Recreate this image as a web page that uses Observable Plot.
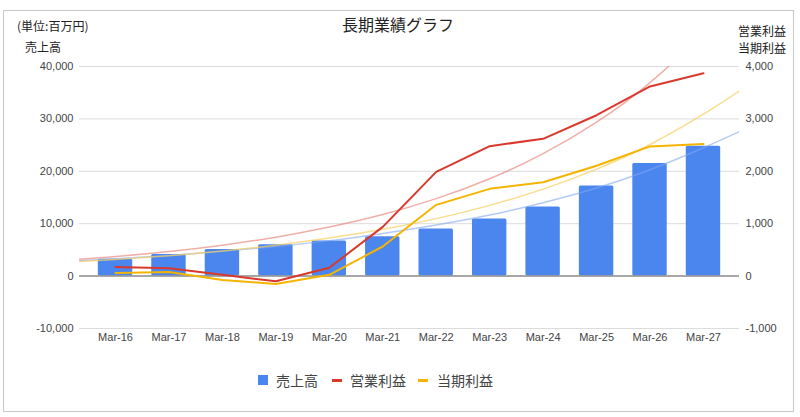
<!DOCTYPE html>
<html>
<head>
<meta charset="utf-8">
<script src="https://cdn.jsdelivr.net/npm/d3@7"></script>
<script src="https://cdn.jsdelivr.net/npm/@observablehq/plot@0.6"></script>
<style>
  html, body { margin: 0; padding: 0; background: #fff; }
  #wrap { position: relative; width: 800px; height: 417px; overflow: hidden; font-family: "Noto Sans CJK JP", "Liberation Sans", sans-serif; color: #222; }
  #wrap svg { position: absolute; left: 0; top: 0; }
  .abs { position: absolute; white-space: nowrap; line-height: 1; }
  #border { position: absolute; left: 3px; top: 10px; width: 789px; height: 400px; border: 1.5px solid #c8c8c8; }
</style>
</head>
<body>
<div id="wrap">
  <div id="border"></div>
</div>
<script>
// ---- data ----
const labels = ["Mar-16","Mar-17","Mar-18","Mar-19","Mar-20","Mar-21","Mar-22","Mar-23","Mar-24","Mar-25","Mar-26","Mar-27"];
const sales = [3200, 4100, 5100, 6000, 6700, 7500, 9000, 10900, 13200, 17200, 21500, 24800];        // 売上高 (left axis)
const opProfit = [175, 150, 25, -100, 160, 940, 1990, 2480, 2620, 3070, 3620, 3870];               // 営業利益 (right axis)
const netProfit = [60, 80, -75, -150, 25, 565, 1360, 1665, 1790, 2105, 2475, 2520];               // 当期利益 (right axis)
// trendlines, at category positions (incl. plot edges)
const trendPos = [-0.674, 0, 1, 2, 3, 4, 5, 6, 7, 8, 9, 10, 11, 11.674];
const salesTrend = [2930, 3290, 3940, 4720, 5650, 6770, 8150, 9750, 11650, 14000, 16800, 20300, 24500, 27600];
const opTrend = [322, 374, 470, 591, 743, 935, 1175, 1478, 1858, 2336, 2937, 3693, 4643, 5388];
const netTrend = [277, 317, 390, 479, 590, 725, 892, 1097, 1350, 1660, 2042, 2512, 3090, 3537];
const leftTicks = [-10000, 0, 10000, 20000, 30000, 40000];
const rightTicks = [-1000, 0, 1000, 2000, 3000, 4000];

const BLUE = "#4a86ee", RED = "#d9392c", YELLOW = "#f4b400";
const ratio = 10; // right axis -> left axis units

const idx = labels.map((_, i) => i);
const salesRows = idx.map(i => ({i, v: sales[i]}));
const opRows = idx.map(i => ({i, v: opProfit[i] * ratio}));
const netRows = idx.map(i => ({i, v: netProfit[i] * ratio}));
const sTrend = trendPos.map((p, k) => ({p, v: salesTrend[k]}));
const oTrend = trendPos.map((p, k) => ({p, v: opTrend[k] * ratio}));
const nTrend = trendPos.map((p, k) => ({p, v: netTrend[k] * ratio}));

const chart = Plot.plot({
  width: 800,
  height: 417,
  marginTop: 66,
  marginBottom: 89,
  marginLeft: 79,
  marginRight: 61,
  x: {type: "linear", domain: [-0.674, 11.674]},
  y: {domain: [-10000, 40000]},
  style: {fontFamily: "'Liberation Sans', Arial, sans-serif", fontSize: "11px", color: "#444", background: "transparent"},
  marks: [
    Plot.ruleY(leftTicks.filter(d => d !== 0), {stroke: "#dcdcdc", strokeWidth: 1}),
    Plot.rectY(salesRows, {x1: d => d.i - 0.322, x2: d => d.i + 0.322, y: "v", fill: BLUE, rx: 1.5}),
    Plot.ruleY([0], {stroke: "#8a8a8a", strokeWidth: 1.5}),
    Plot.line(sTrend, {x: "p", y: "v", stroke: "#7ea6f2", strokeOpacity: 0.6, strokeWidth: 1.5, curve: "natural", clip: true}),
    Plot.line(oTrend, {x: "p", y: "v", stroke: "#e8827a", strokeOpacity: 0.65, strokeWidth: 1.5, curve: "natural", clip: true}),
    Plot.line(nTrend, {x: "p", y: "v", stroke: "#f7cf5c", strokeOpacity: 0.7, strokeWidth: 1.5, curve: "natural", clip: true}),
    Plot.line(opRows, {x: "i", y: "v", stroke: RED, strokeWidth: 2}),
    Plot.line(netRows, {x: "i", y: "v", stroke: YELLOW, strokeWidth: 2}),
    Plot.axisY({ticks: leftTicks, tickSize: 0, tickPadding: 6, tickFormat: d => d.toLocaleString("en-US"), label: null}),
    Plot.axisY({anchor: "right", ticks: leftTicks, tickSize: 0, tickPadding: 6, tickFormat: d => (d / ratio).toLocaleString("en-US"), label: null}),
    Plot.axisX({ticks: idx, tickSize: 0, tickPadding: 5, tickFormat: i => labels[i], label: null})
  ]
});

const wrap = document.getElementById("wrap");
wrap.appendChild(chart);

function addText(txt, left, top, size, extra = {}) {
  const el = document.createElement("div");
  el.className = "abs";
  el.textContent = txt;
  el.style.left = left + "px";
  el.style.top = top + "px";
  el.style.fontSize = size + "px";
  Object.assign(el.style, extra);
  wrap.appendChild(el);
  return el;
}
function addSwatch(left, top, w, h, color) {
  const el = document.createElement("div");
  el.className = "abs";
  Object.assign(el.style, {left: left + "px", top: top + "px", width: w + "px", height: h + "px", background: color});
  wrap.appendChild(el);
}

addText("長期業績グラフ", 342, 16, 16);
addText("(単位:百万円)", 17, 20, 12);
addText("売上高", 25, 41, 12);
addText("営業利益", 738, 25, 12);
addText("当期利益", 738, 42, 12);

// legend
addSwatch(258, 375, 10, 10, BLUE);
addText("売上高", 276, 373, 14, {color: "#444"});
addSwatch(332, 379, 10, 3, RED);
addText("営業利益", 350, 373, 14, {color: "#444"});
addSwatch(418, 379, 10, 3, YELLOW);
addText("当期利益", 437, 373, 14, {color: "#444"});
</script>
</body>
</html>
